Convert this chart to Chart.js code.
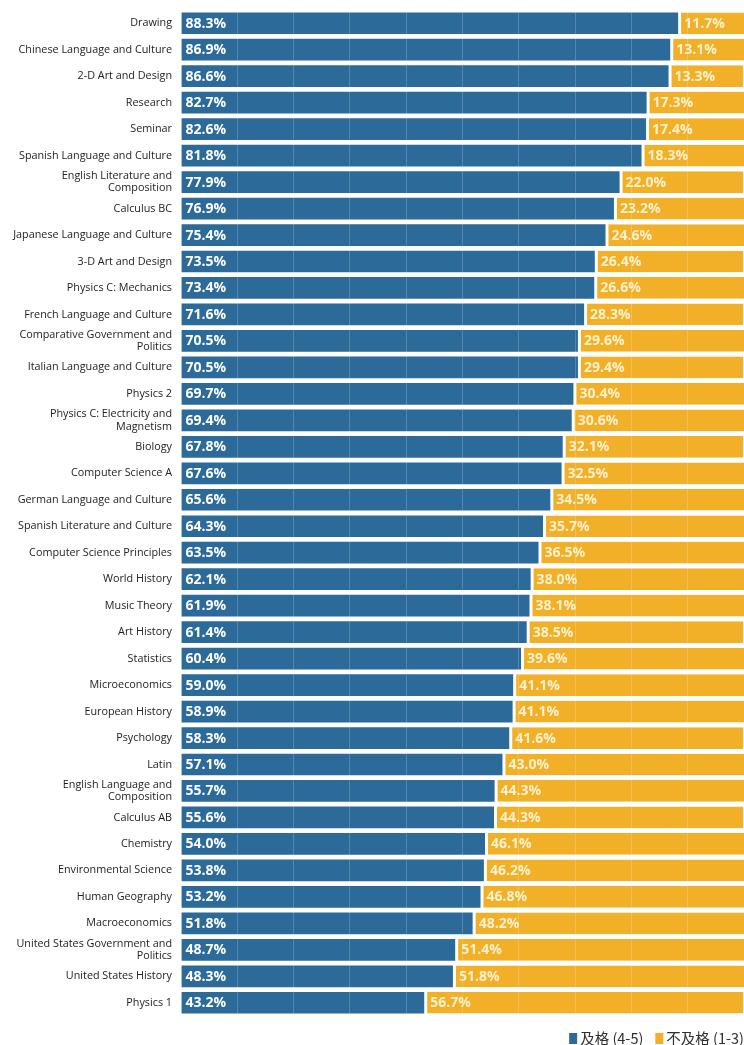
<!DOCTYPE html>
<html>
<head>
<meta charset="utf-8">
<script src="https://cdn.jsdelivr.net/npm/chart.js@4"></script>
<style>
  html, body { margin: 0; padding: 0; background: #ffffff; }
  #wrap { width: 744px; height: 1045px; position: relative; }
</style>
</head>
<body>
<div id="wrap"><canvas id="c"></canvas></div>
<script>
const categories = [
  "Drawing",
  "Chinese Language and Culture",
  "2-D Art and Design",
  "Research",
  "Seminar",
  "Spanish Language and Culture",
  ["English Literature and", "Composition"],
  "Calculus BC",
  "Japanese Language and Culture",
  "3-D Art and Design",
  "Physics C: Mechanics",
  "French Language and Culture",
  ["Comparative Government and", "Politics"],
  "Italian Language and Culture",
  "Physics 2",
  ["Physics C: Electricity and", "Magnetism"],
  "Biology",
  "Computer Science A",
  "German Language and Culture",
  "Spanish Literature and Culture",
  "Computer Science Principles",
  "World History",
  "Music Theory",
  "Art History",
  "Statistics",
  "Microeconomics",
  "European History",
  "Psychology",
  "Latin",
  ["English Language and", "Composition"],
  "Calculus AB",
  "Chemistry",
  "Environmental Science",
  "Human Geography",
  "Macroeconomics",
  ["United States Government and", "Politics"],
  "United States History",
  "Physics 1"
];
const passRates = [88.3, 86.9, 86.6, 82.7, 82.6, 81.8, 77.9, 76.9, 75.4, 73.5, 73.4, 71.6, 70.5, 70.5, 69.7, 69.4, 67.8, 67.6, 65.6, 64.3, 63.5, 62.1, 61.9, 61.4, 60.4, 59.0, 58.9, 58.3, 57.1, 55.7, 55.6, 54.0, 53.8, 53.2, 51.8, 48.7, 48.3, 43.2];
const failRates = [11.7, 13.1, 13.3, 17.3, 17.4, 18.3, 22.0, 23.2, 24.6, 26.4, 26.6, 28.3, 29.6, 29.4, 30.4, 30.6, 32.1, 32.5, 34.5, 35.7, 36.5, 38.0, 38.1, 38.5, 39.6, 41.1, 41.1, 41.6, 43.0, 44.3, 44.3, 46.1, 46.2, 46.8, 48.2, 51.4, 51.8, 56.7];
const seriesNames = ["及格 (4-5)", "不及格 (1-3)"];

const BLUE = "#2b6a99";
const YELLOW = "#f1b027";

const valueLabels = {
  id: "valueLabels",
  afterDraw(chart) {
    const ctx = chart.ctx;
    ctx.save();
    ctx.font = "bold 14px 'Open Sans', sans-serif";
    ctx.textBaseline = "middle";
    ctx.textAlign = "left";
    chart.data.datasets.forEach((ds, di) => {
      const meta = chart.getDatasetMeta(di);
      ctx.fillStyle = di === 0 ? "#ffffff" : "#fdf1cf";
      meta.data.forEach((bar, i) => {
        const v = ds.data[i];
        ctx.fillText(v.toFixed(1) + "%", bar.base + (di === 0 ? 4 : 6), bar.y + 0.5);
      });
    });
    ctx.restore();
  }
};

// legend drawn from the datasets, placed at the bottom-right corner
const bottomLegend = {
  id: "bottomLegend",
  afterDraw(chart) {
    const ctx = chart.ctx;
    ctx.save();
    ctx.font = "14.5px 'Noto Sans CJK SC', 'Open Sans', sans-serif";
    ctx.textBaseline = "middle";
    ctx.textAlign = "left";
    const boxW = 8, boxH = 11, boxGap = 3, itemGap = 12;
    const yc = chart.height - 6.5;
    const items = chart.data.datasets.map(ds => ({
      text: ds.label, color: ds.backgroundColor, w: ctx.measureText(ds.label).width
    }));
    let total = 0;
    items.forEach((it, i) => { total += boxW + boxGap + it.w + (i < items.length - 1 ? itemGap : 0); });
    let x = chart.width - total;
    items.forEach(it => {
      ctx.fillStyle = it.color;
      ctx.fillRect(x, yc - boxH / 2, boxW, boxH);
      x += boxW + boxGap;
      ctx.fillStyle = "#2e2e2e";
      ctx.fillText(it.text, x, yc);
      x += it.w + itemGap;
    });
    ctx.restore();
  }
};

new Chart(document.getElementById("c"), {
  type: "bar",
  data: {
    labels: categories,
    datasets: [
      {
        label: seriesNames[0],
        data: passRates,
        backgroundColor: BLUE,
        borderWidth: 0,
        barPercentage: 0.82,
        categoryPercentage: 1.0
      },
      {
        label: seriesNames[1],
        data: failRates,
        backgroundColor: YELLOW,
        borderColor: "#ffffff",
        borderWidth: { left: 3, top: 0, right: 0, bottom: 0 },
        borderSkipped: false,
        barPercentage: 0.82,
        categoryPercentage: 1.0
      }
    ]
  },
  options: {
    indexAxis: "y",
    responsive: true,
    maintainAspectRatio: false,
    animation: false,
    layout: { padding: { top: 10, right: 0, bottom: 29, left: 0 } },
    scales: {
      x: {
        stacked: true,
        min: 0,
        max: 100,
        ticks: { display: false, stepSize: 10 },
        grid: { color: "rgba(255,255,255,0.2)", lineWidth: 1, drawTicks: false, z: 1 },
        border: { display: false },
        afterFit(scale) { scale.height = 0; scale.paddingLeft = 0; scale.paddingRight = 0; }
      },
      y: {
        stacked: true,
        afterFit(scale) { scale.width = 181; scale.paddingTop = 0; scale.paddingBottom = 0; },
        grid: { display: false, drawTicks: false },
        border: { display: false },
        ticks: {
          color: "#222222",
          padding: 9,
          autoSkip: false,
          font: { family: "'Open Sans', sans-serif", size: 10.8, lineHeight: 1.15 }
        }
      }
    },
    plugins: {
      legend: { display: false },
      tooltip: { enabled: false }
    }
  },
  plugins: [valueLabels, bottomLegend]
});
</script>
</body>
</html>
